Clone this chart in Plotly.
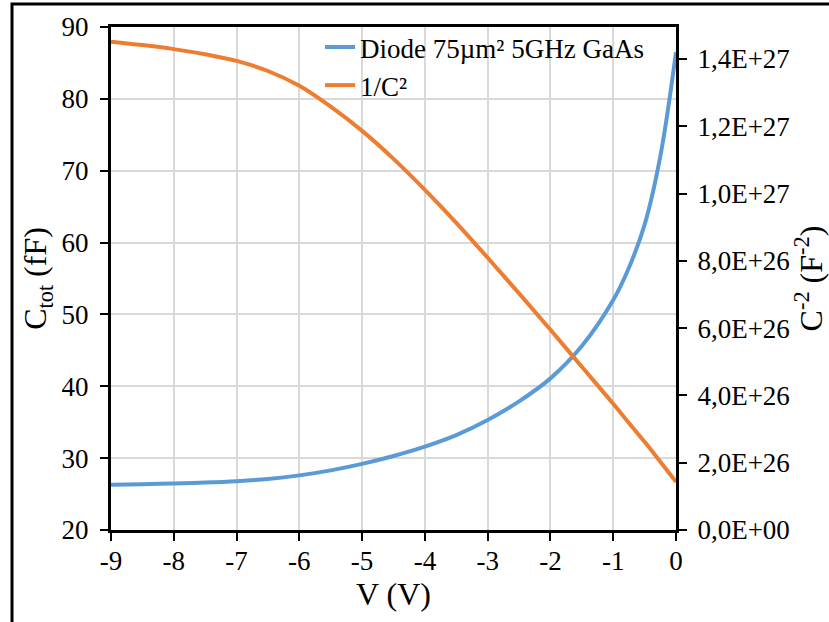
import plotly.graph_objects as go

# Data
voltage = [-9, -8.5, -8, -7.5, -7, -6.5, -6, -5.5, -5, -4.5, -4, -3.5, -3, -2.5, -2, -1.5, -1, -0.75, -0.5, -0.25, 0]
c_tot_fF = [26.3, 26.38, 26.47, 26.6, 26.8, 27.1, 27.6, 28.3, 29.2, 30.3, 31.6, 33.2, 35.3, 37.9, 41.1, 45.6,
            52.0, 56.5, 62.5, 72.0, 86.5]
inv_c2 = [1.451e27, 1.441e27, 1.429e27, 1.414e27, 1.394e27, 1.364e27, 1.320e27, 1.258e27, 1.186e27, 1.103e27,
          1.011e27, 0.913e27, 0.809e27, 0.703e27, 0.595e27, 0.485e27, 0.375e27, 0.318e27, 0.262e27, 0.203e27,
          0.143e27]

x_ticks = [-9, -8, -7, -6, -5, -4, -3, -2, -1, 0]
x_ticktext = ["-9", "-8", "-7", "-6", "-5", "-4", "-3", "-2", "-1", "0"]
left_ticks = [20, 30, 40, 50, 60, 70, 80, 90]
right_tickvals = [0, 0.2e27, 0.4e27, 0.6e27, 0.8e27, 1.0e27, 1.2e27, 1.4e27]
right_ticktext = ["0,0E+00", "2,0E+26", "4,0E+26", "6,0E+26", "8,0E+26", "1,0E+27", "1,2E+27", "1,4E+27"]

FONT = "Liberation Serif"
FS = 27
BLUE = "#5B9BD5"
ORANGE = "#ED7D31"

fig = go.Figure()
fig.add_trace(go.Scatter(x=voltage, y=c_tot_fF, mode="lines", name="Diode 75µm² 5GHz GaAs",
                         line=dict(color=BLUE, width=4, shape="spline", smoothing=1.0), yaxis="y"))
fig.add_trace(go.Scatter(x=voltage, y=inv_c2, mode="lines", name="1/C²",
                         line=dict(color=ORANGE, width=4, shape="spline", smoothing=1.0), yaxis="y2"))

xr = [-9, 0]
yr = [20, 90]
y2r = [0, 1.4948e27]

fig.update_layout(
    width=829, height=622, autosize=False,
    margin=dict(l=111, r=153, t=27, b=92),
    paper_bgcolor="white", plot_bgcolor="white",
    font=dict(family=FONT, size=FS, color="black"),
    showlegend=True,
    legend=dict(x=0.37, y=1.008, xanchor="left", yanchor="top", bgcolor="rgba(0,0,0,0)",
                font=dict(family=FONT, size=FS), itemwidth=30, tracegroupgap=0),
    xaxis=dict(range=xr, tickvals=x_ticks, ticktext=x_ticktext, ticks="outside", ticklen=8, tickwidth=2,
               tickcolor="black", automargin=False, ticklabelstandoff=-3,
               showline=True, linecolor="black", linewidth=3, mirror=True,
               showgrid=True, gridcolor="#d9d9d9", gridwidth=2, zeroline=False,
               title=dict(text="V (V)", standoff=8), tickfont=dict(size=FS)),
    yaxis=dict(range=yr, tickvals=left_ticks, ticks="outside", ticklen=8, tickwidth=2, tickcolor="black",
               automargin=False, ticklabelstandoff=6,
               showline=True, linecolor="black", linewidth=3, mirror=True,
               showgrid=True, gridcolor="#d9d9d9", gridwidth=2, zeroline=False,
               title=dict(text="C<sub>tot</sub> (fF)", standoff=6), tickfont=dict(size=FS)),
    yaxis2=dict(range=y2r, tickvals=right_tickvals, ticktext=right_ticktext, overlaying="y", side="right",
                ticks="outside", ticklen=8, tickwidth=2, tickcolor="black", automargin=False,
                ticklabelstandoff=5,
                showline=True, linecolor="black", linewidth=3,
                showgrid=False, zeroline=False,
                title=dict(text="C<sup>-2</sup> (F<sup>-2</sup>)", standoff=14), tickfont=dict(size=FS)),
    # inner halves of the crossing tick marks
    xaxis2=dict(range=xr, tickvals=x_ticks, overlaying="x", anchor="y", side="bottom", ticks="inside",
                ticklen=8, tickwidth=2, tickcolor="black", showticklabels=False, showgrid=False,
                showline=False, zeroline=False, automargin=False),
    yaxis3=dict(range=yr, tickvals=left_ticks, overlaying="y", side="left", anchor="x", ticks="inside",
                ticklen=8, tickwidth=2, tickcolor="black", showticklabels=False, showgrid=False,
                showline=False, zeroline=False, automargin=False),
    yaxis4=dict(range=y2r, tickvals=right_tickvals, overlaying="y", side="right", anchor="x", ticks="inside",
                ticklen=8, tickwidth=2, tickcolor="black", showticklabels=False, showgrid=False,
                showline=False, zeroline=False, automargin=False),
)

# outer chart frame (only its left and top edges fall inside the picture)
fig.add_shape(type="rect", xref="paper", yref="paper", x0=-0.1752, x1=1.4, y0=-0.3, y1=1.0457,
              line=dict(color="black", width=3), fillcolor="rgba(0,0,0,0)", layer="above")

fig.write_html("out.html", config={"displayModeBar": False},
               post_script="document.body.style.margin='0';")
